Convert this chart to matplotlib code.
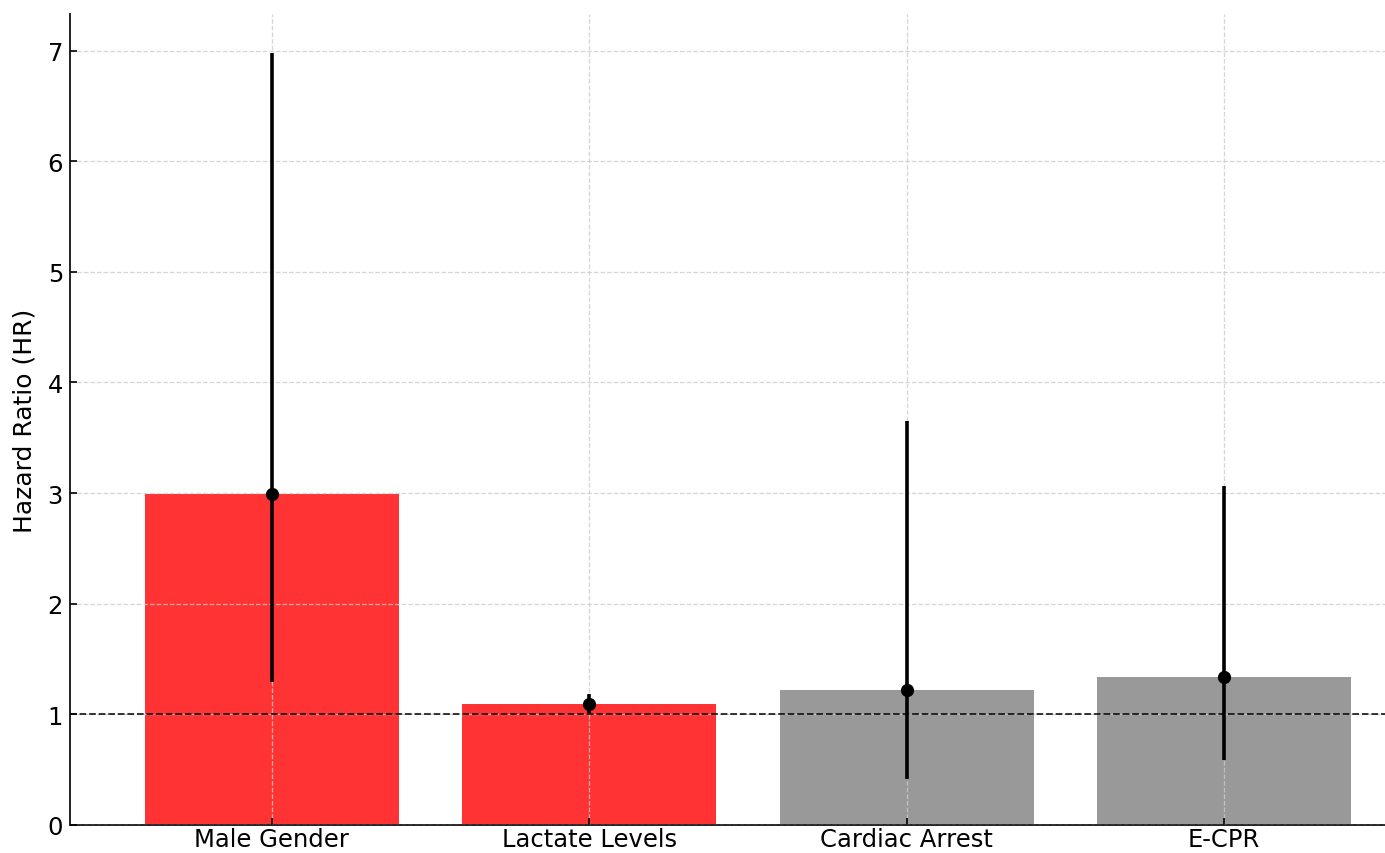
import matplotlib
matplotlib.use("Agg")
import matplotlib.pyplot as plt
import numpy as np

categories = ["Male Gender", "Lactate Levels", "Cardiac Arrest", "E-CPR"]
hazard_ratio = [2.99, 1.09, 1.22, 1.34]
ci_lower = [1.29, 1.01, 0.42, 0.59]
ci_upper = [6.98, 1.18, 3.65, 3.06]
bar_colors = ["red", "red", "gray", "gray"]

fig = plt.figure(figsize=(13.85, 8.54), dpi=100)
ax = fig.add_axes([70 / 1385, 28 / 854, 1315 / 1385, 811 / 854])

x = np.arange(len(categories))
hr = np.array(hazard_ratio)
yerr = np.vstack([hr - np.array(ci_lower), np.array(ci_upper) - hr])

ax.bar(x, hr, width=0.8, color=bar_colors, alpha=0.8, zorder=1)
ax.errorbar(x, hr, yerr=yerr, fmt="o", color="black", ecolor="black",
            elinewidth=2.6, markersize=8.5, capsize=0, zorder=4)
ax.axhline(1, color="black", linestyle="--", linewidth=1.3, alpha=0.85, zorder=3)

ax.set_xticks(x)
ax.set_xticklabels(categories, fontsize=17.5)
ax.tick_params(axis="x", direction="in", length=5, width=1.2, pad=1.5)
ax.tick_params(axis="y", direction="in", length=5, width=1.2, pad=5, labelsize=17.5)
ax.set_ylabel("Hazard Ratio (HR)", fontsize=18, labelpad=8)
ax.set_xlim(-0.636, 3.507)
ax.set_ylim(0, 7.33)
ax.set_yticks(range(0, 8))

ax.grid(True, linestyle="--", color="#cccccc", linewidth=0.9, alpha=0.8)
ax.set_axisbelow(False)
for gl in ax.get_xgridlines() + ax.get_ygridlines():
    gl.set_zorder(2)

ax.spines["top"].set_visible(False)
ax.spines["right"].set_visible(False)
for s in ("left", "bottom"):
    ax.spines[s].set_linewidth(1.4)
    ax.spines[s].set_color("#222222")

fig.savefig("out.png", dpi=100)
